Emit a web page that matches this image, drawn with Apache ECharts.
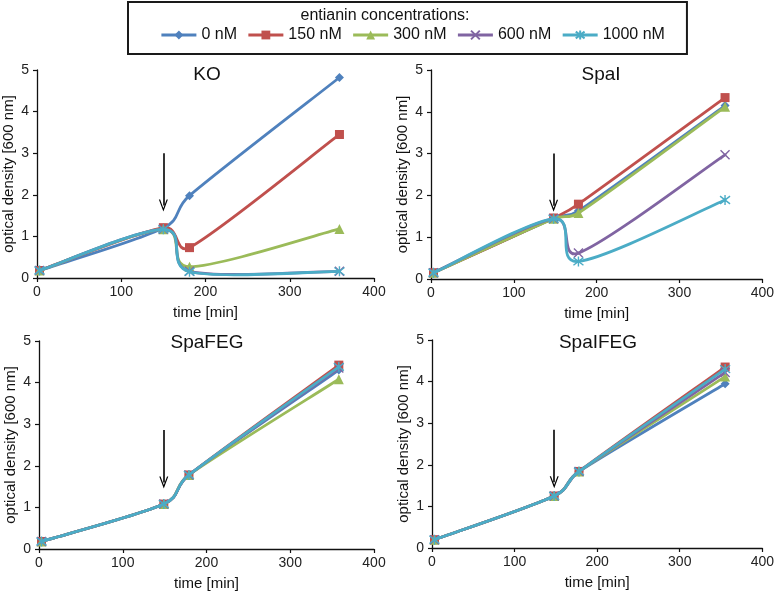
<!DOCTYPE html>
<html><head><meta charset="utf-8">
<script src="https://cdn.jsdelivr.net/npm/echarts@6/dist/echarts.min.js"></script>
<style>html,body{margin:0;padding:0;background:#fff}#c{width:777px;height:594px}</style>
</head><body><div id="c"></div>
<script>
// ---- data ----
const concentrations = ['0 nM', '150 nM', '300 nM', '600 nM', '1000 nM'];
const panelNames = ['KO', 'SpaI', 'SpaFEG', 'SpaIFEG'];
const xTicks = [0, 100, 200, 300, 400];
const yTicks = [0, 1, 2, 3, 4, 5];

const timeKO = [3, 150, 181, 359];
const ko0 = [0.18, 1.20, 1.98, 4.82];
const ko150 = [0.18, 1.21, 0.73, 3.45];
const ko300 = [0.18, 1.17, 0.27, 1.18];
const ko600 = [0.18, 1.17, 0.16, 0.16];
const ko1000 = [0.18, 1.17, 0.15, 0.16];

const timeSpaI = [3, 148, 178, 355];
const spa0 = [0.15, 1.45, 1.63, 4.15];
const spa150 = [0.15, 1.46, 1.79, 4.34];
const spa300 = [0.15, 1.44, 1.58, 4.12];
const spa600 = [0.15, 1.44, 0.62, 2.97];
const spa1000 = [0.15, 1.44, 0.42, 1.89];

const timeSpaFEG = [3, 149, 179, 358];
const feg0 = [0.18, 1.08, 1.78, 4.30];
const feg150 = [0.18, 1.08, 1.78, 4.42];
const feg300 = [0.18, 1.08, 1.78, 4.08];
const feg600 = [0.18, 1.08, 1.78, 4.35];
const feg1000 = [0.18, 1.08, 1.78, 4.38];

const timeSpaIFEG = [3, 148, 178, 355];
const ifeg0 = [0.20, 1.25, 1.84, 3.95];
const ifeg150 = [0.20, 1.25, 1.84, 4.35];
const ifeg300 = [0.20, 1.25, 1.84, 4.12];
const ifeg600 = [0.20, 1.25, 1.84, 4.22];
const ifeg1000 = [0.20, 1.25, 1.84, 4.30];

// arrows (addition time), in data units
const arrowX = [150, 148, 149, 148];
const arrowTop = [3.0, 3.0, 2.86, 2.84];
const arrowTip = [1.74, 1.75, 1.60, 1.58];

// ---- styling ----
const FONT = '"Liberation Sans", Arial, sans-serif';
const colors = ['#4f81bd', '#c0504d', '#9bbb59', '#8064a2', '#4bacc6'];
const symbols = [
  'diamond', 'rect', 'triangle',
  'path://M0,0L10,10M10,0L0,10',
  'path://M0,0L10,10M10,0L0,10M5,-1.5L5,11.5'
];
const symbolSizes = [9, 9, 10, 9, 10];
const LW = 2.8;
const grids = [
  {left: 37, right: 403, top: 70, bottom: 316},
  {left: 431, right: 9, top: 70, bottom: 315},
  {left: 39, right: 403, top: 341, bottom: 45},
  {left: 432, right: 9, top: 340, bottom: 46}
];
const titleCenters = [[207, 65], [601, 65], [207, 333], [598, 333]];
const panelTimes = [timeKO, timeSpaI, timeSpaFEG, timeSpaIFEG];
const panelValues = [
  [ko0, ko150, ko300, ko600, ko1000],
  [spa0, spa150, spa300, spa600, spa1000],
  [feg0, feg150, feg300, feg600, feg1000],
  [ifeg0, ifeg150, ifeg300, ifeg600, ifeg1000]
];
const arrowHead = 'path://M5,0L10,11L8.6,11L5,3.2L1.4,11L0,11Z';

// Excel-like smoothed line: Catmull-Rom (1/6) with control arms limited to half the segment
function smoothRenderer(color) {
  const dist = (a, b) => Math.hypot(b[0] - a[0], b[1] - a[1]);
  return function (params, api) {
    if (params.dataIndexInside !== 0) return null;
    const n = params.dataInsideLength;
    const p = [];
    for (let j = 0; j < n; j++) p.push(api.coord([api.value(0, j), api.value(1, j)]));
    const children = [];
    for (let j = 0; j < n - 1; j++) {
      const p0 = p[Math.max(j - 1, 0)], p1 = p[j], p2 = p[j + 1], p3 = p[Math.min(j + 2, n - 1)];
      const d12 = dist(p1, p2), d02 = dist(p0, p2), d13 = dist(p1, p3);
      let f1 = 1 / 6, f2 = 1 / 6;
      if (d02 / 6 > d12 / 2 && d02 > 0) f1 = d12 / 2 / d02;
      if (d13 / 6 > d12 / 2 && d13 > 0) f2 = d12 / 2 / d13;
      children.push({
        type: 'bezierCurve',
        shape: {
          x1: p1[0], y1: p1[1], x2: p2[0], y2: p2[1],
          cpx1: p1[0] + (p2[0] - p0[0]) * f1, cpy1: p1[1] + (p2[1] - p0[1]) * f1,
          cpx2: p2[0] - (p3[0] - p1[0]) * f2, cpy2: p2[1] - (p3[1] - p1[1]) * f2
        },
        style: {stroke: color, lineWidth: LW, fill: null, lineCap: 'round', lineJoin: 'round'}
      });
    }
    return {type: 'group', children: children};
  };
}

const xAxes = [], yAxes = [], series = [];
const titles = [{
  text: 'entianin concentrations:', left: 385, top: 8, textAlign: 'center', padding: 0,
  textStyle: {fontFamily: FONT, fontSize: 16, fontWeight: 'normal', color: '#111'}
}];

grids.forEach((g, i) => {
  titles.push({
    text: panelNames[i], left: titleCenters[i][0], top: titleCenters[i][1], textAlign: 'center', padding: 0,
    textStyle: {fontFamily: FONT, fontSize: 19, fontWeight: 'normal', color: '#111'}
  });
  xAxes.push({
    gridIndex: i, type: 'value', min: xTicks[0], max: xTicks[xTicks.length - 1], interval: xTicks[1] - xTicks[0],
    name: 'time [min]', nameLocation: 'middle', nameGap: 27,
    nameTextStyle: {fontFamily: FONT, fontSize: 15, color: '#111'},
    axisLine: {show: true, onZero: false, lineStyle: {color: '#111', width: 1.3}},
    axisTick: {show: true, length: 4, lineStyle: {color: '#111', width: 1.2}},
    axisLabel: {fontFamily: FONT, fontSize: 14, color: '#222', margin: 7},
    splitLine: {show: false}
  });
  yAxes.push({
    gridIndex: i, type: 'value', min: yTicks[0], max: yTicks[yTicks.length - 1], interval: yTicks[1] - yTicks[0],
    name: 'optical density [600 nm]', nameLocation: 'middle', nameRotate: 90, nameGap: 21,
    nameTextStyle: {fontFamily: FONT, fontSize: 15, color: '#111'},
    axisLine: {show: true, onZero: false, lineStyle: {color: '#111', width: 1.3}},
    axisTick: {show: true, length: 4, lineStyle: {color: '#111', width: 1.2}},
    axisLabel: {fontFamily: FONT, fontSize: 14, color: '#222', margin: 8},
    splitLine: {show: false}
  });
  concentrations.forEach((name, k) => {
    const pts = panelTimes[i].map((t, j) => [t, panelValues[i][k][j]]);
    series.push({
      name: 'curve ' + name, type: 'custom', coordinateSystem: 'cartesian2d',
      xAxisIndex: i, yAxisIndex: i, data: pts, encode: {x: 0, y: 1},
      renderItem: smoothRenderer(colors[k]), clip: false, silent: true,
      z: 2 + 2 * k, animation: false
    });
    const s = {
      name: name, type: 'line', xAxisIndex: i, yAxisIndex: i, data: pts,
      symbol: symbols[k], symbolSize: symbolSizes[k], showSymbol: true,
      lineStyle: {color: colors[k], width: LW, opacity: 0},
      itemStyle: {color: colors[k], borderColor: colors[k], borderWidth: k >= 3 ? 1.4 : 0},
      z: 3 + 2 * k, animation: false, silent: true,
      emphasis: {disabled: true}
    };
    if (k === 0) {
      s.markLine = {
        silent: true, animation: false,
        symbol: ['none', arrowHead], symbolSize: [9, 12],
        lineStyle: {color: '#000', width: 1.6, type: 'solid', opacity: 1},
        label: {show: false},
        emphasis: {disabled: true},
        data: [[{coord: [arrowX[i], arrowTop[i]]}, {coord: [arrowX[i], arrowTip[i]]}]]
      };
    }
    series.push(s);
  });
});

const chart = echarts.init(document.getElementById('c'), null, {renderer: 'canvas'});
chart.setOption({
  backgroundColor: '#fff',
  animation: false,
  title: titles,
  legend: {
    data: concentrations,
    left: 128, top: 2,
    padding: [25, 22, 11, 32],
    borderColor: '#1a1a1a', borderWidth: 2, borderRadius: 0,
    itemWidth: 35, itemHeight: 11, itemGap: 10,
    lineStyle: {opacity: 1, width: LW},
    textStyle: {fontFamily: FONT, fontSize: 16, color: '#111'}
  },
  grid: grids,
  xAxis: xAxes,
  yAxis: yAxes,
  series: series
});
</script>
</body></html>
